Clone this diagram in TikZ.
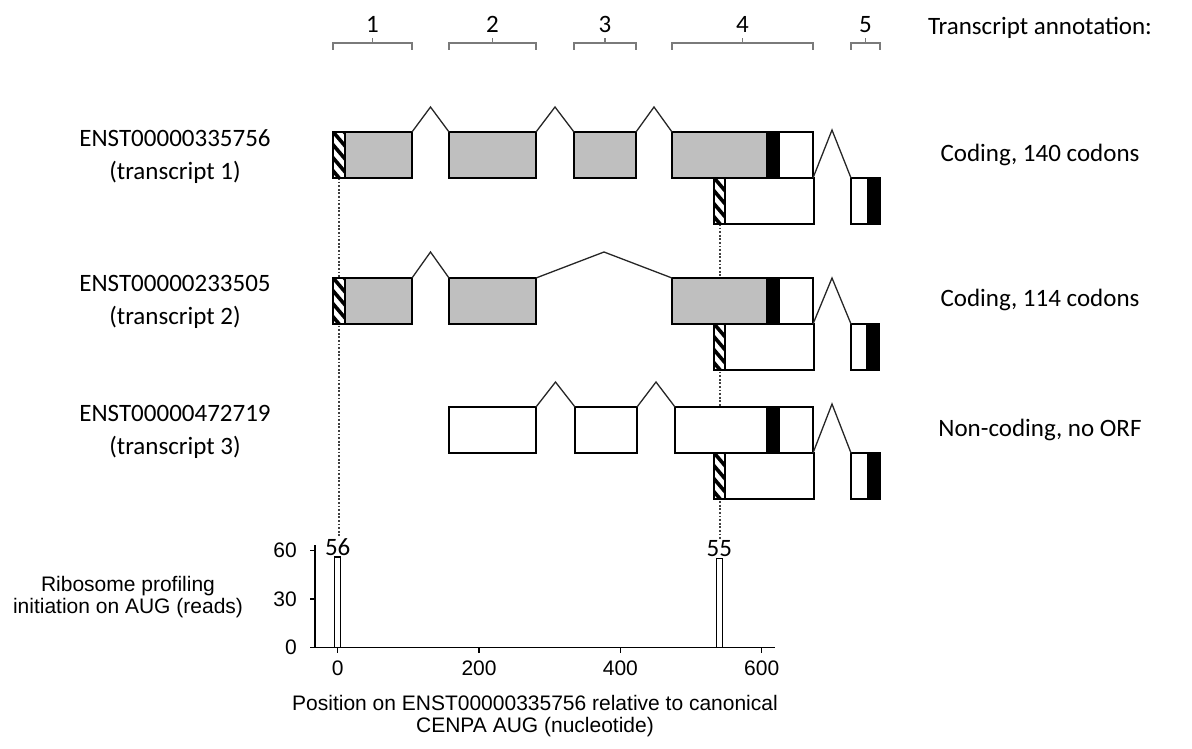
\documentclass[tikz,border=0pt]{standalone}
\usepackage{fontspec}
\setmainfont{Carlito}
\newfontfamily\arialfont{Liberation Sans}
\usepackage{tikz}
\usetikzlibrary{calc, backgrounds}
\definecolor{cdsGrey}{HTML}{BFBFBF}
\definecolor{braceGrey}{HTML}{7A7A7A}
\tikzset{
  exon/.style    = {draw, line width=1.6pt, inner sep=0pt, outer sep=0pt,
                    anchor=north west, minimum height=46},
  cds/.style     = {exon, fill=cdsGrey},
  utr/.style     = {exon, fill=white},
  stop/.style    = {exon, fill=black},
  hatch/.style   = {exon, fill=white, path picture={
                    \foreach \k in {-1,...,4}
                      \draw[line width=3.6pt] ([shift={(-4,{13*\k-5})}]path picture bounding box.north west) -- ++(22,26);}},
  intron/.style  = {draw=black!85, line width=1.3pt},
  guide/.style   = {draw=black!75, line width=2pt, dash pattern=on 1.8pt off 1.8pt},
  brace/.style   = {draw=braceGrey, line width=1.7pt},
  lab/.style     = {font=\fontsize{25}{33}\selectfont, align=center, inner sep=0pt},
  chartfont/.style = {font=\arialfont\fontsize{21}{22}\selectfont, align=center, inner sep=0pt},
  num/.style     = {font=\fontsize{25}{30}\selectfont, inner sep=1.5pt},
  bar/.style     = {draw, line width=1.4pt, fill=white, anchor=south, minimum width=6,
                    inner sep=0pt, outer sep=0pt},
  axisline/.style= {draw, line width=1.5pt}
}

\begin{document}
\begin{tikzpicture}[x=1pt, y=-1pt]
  \useasboundingbox (0,0) rectangle (1192,749);
  \coordinate (top) at (0,43);

  \foreach \n/\s/\a/\b/\y in {
      t1h/hatch/333/345/132, t1a/cds/345/412/132, t1b/cds/449/536/132, t1c/cds/574/636/132,
      t1d/cds/672/767/132, t1s/stop/767/779/132, t1u/utr/779/813/132,
      t1k/hatch/714/725/178, t1l/utr/725/814/178, t1v/utr/851/868/178, t1w/stop/868/880/178,
      t2h/hatch/333/345/278, t2a/cds/345/412/278, t2b/cds/449/536/278,
      t2d/cds/672/767/278, t2s/stop/767/779/278, t2u/utr/779/813/278,
      t2k/hatch/714/725/324, t2l/utr/725/814/324, t2v/utr/851/867/324, t2w/stop/867/879/324,
      t3b/utr/449/536/407, t3c/utr/575/637/407,
      t3d/utr/675/767/407, t3s/stop/767/779/407, t3u/utr/779/813/407,
      t3k/hatch/714/725/453, t3l/utr/725/814/453, t3v/utr/851/868/453, t3w/stop/868/880/453}
    \node[\s, minimum width={\b-\a}] (\n) at (\a,\y) {};

  \foreach \a/\b/\h in {t1a/t1b/25, t1b/t1c/25, t1c/t1d/25, t2a/t2b/26, t2b/t2d/26, t3b/t3c/25, t3c/t3d/25}
    \draw[intron] (\a.north east) -- ($(\a.north east)!.5!(\b.north west)+(0,-\h)$) -- (\b.north west);
  \foreach \a/\b/\h in {t1u/t1v/48, t2u/t2v/46, t3u/t3v/49}
    \draw[intron] (\a.south east) -- ($(\a.south east)!.5!(\b.north west)+(0,-\h)$) -- (\b.north west);

  \foreach \a/\b/\n in {t1h/t1a/1, t1b/t1b/2, t1c/t1c/3, t1d/t1u/4, t1v/t1w/5} {
    \draw[brace] (\a.north west |- top) ++(0,7) -- ++(0,-7) -- (\b.north east |- top) -- ++(0,7);
    \draw[brace] ($(\a.north west |- top)!.5!(\b.north east |- top)$) -- ++(0,-5);
    \node[lab, anchor=base] (e\n) at ($(\a.north west |- top)!.5!(\b.north east |- top)+(0,-10)$) {\n};
  }

  \node[lab] (l1) at (175,157) {ENST00000335756\\(transcript 1)};
  \node[lab] (l2) at (175,302) {ENST00000233505\\(transcript 2)};
  \node[lab] (l3) at (175,432) {ENST00000472719\\(transcript 3)};

  \node[lab, anchor=base] (hd) at (1040,35) {Transcript annotation:};
  \node[lab] (c1) at (1040,155) {Coding, 140 codons};
  \node[lab] (c2) at (1040,300) {Coding, 114 codons};
  \node[lab] (c3) at (1040,430) {Non-coding, no ORF};

  \draw[axisline] (315,545) -- (315,647.3);
  \draw[axisline] (310.7,647.3) -- (775,647.3);
  \foreach \v in {0,30,60} {
    \draw[axisline] (315,{647.3-1.61*\v}) -- ++(-5,0);
    \node[chartfont, anchor=east] (y\v) at (297,{647.3-1.61*\v}) {\v};
  }
  \foreach \p in {0,200,400,600} {
    \draw[axisline] ({337.7+0.7067*\p},647.3) -- ++(0,6);
    \node[chartfont, anchor=north] (x\p) at ({337.7+0.7067*\p},661) {\p};
  }
  \node[bar, minimum height={56*1.61}] (r1) at (337.7,647.3) {};
  \node[bar, minimum height={55*1.61}] (r2) at ({337.7+0.7067*540},647.3) {};
  \node[num, anchor=south] (n56) at (r1.north) {56};
  \node[num, anchor=south] (n55) at (r2.north) {55};

  \node[chartfont] (yl) at (128,597) {Ribosome profiling\\initiation on AUG (reads)};
  \node[chartfont] (xl) at (535,716) {Position on ENST00000335756 relative to canonical\\CENPA AUG (nucleotide)};

  \begin{scope}[on background layer]
    \draw[guide] (t1h.south) -- (t1h.south |- n56.north);
    \draw[guide] (t1k.south) -- (t1k.south |- n55.north);
  \end{scope}
\end{tikzpicture}
\end{document}
